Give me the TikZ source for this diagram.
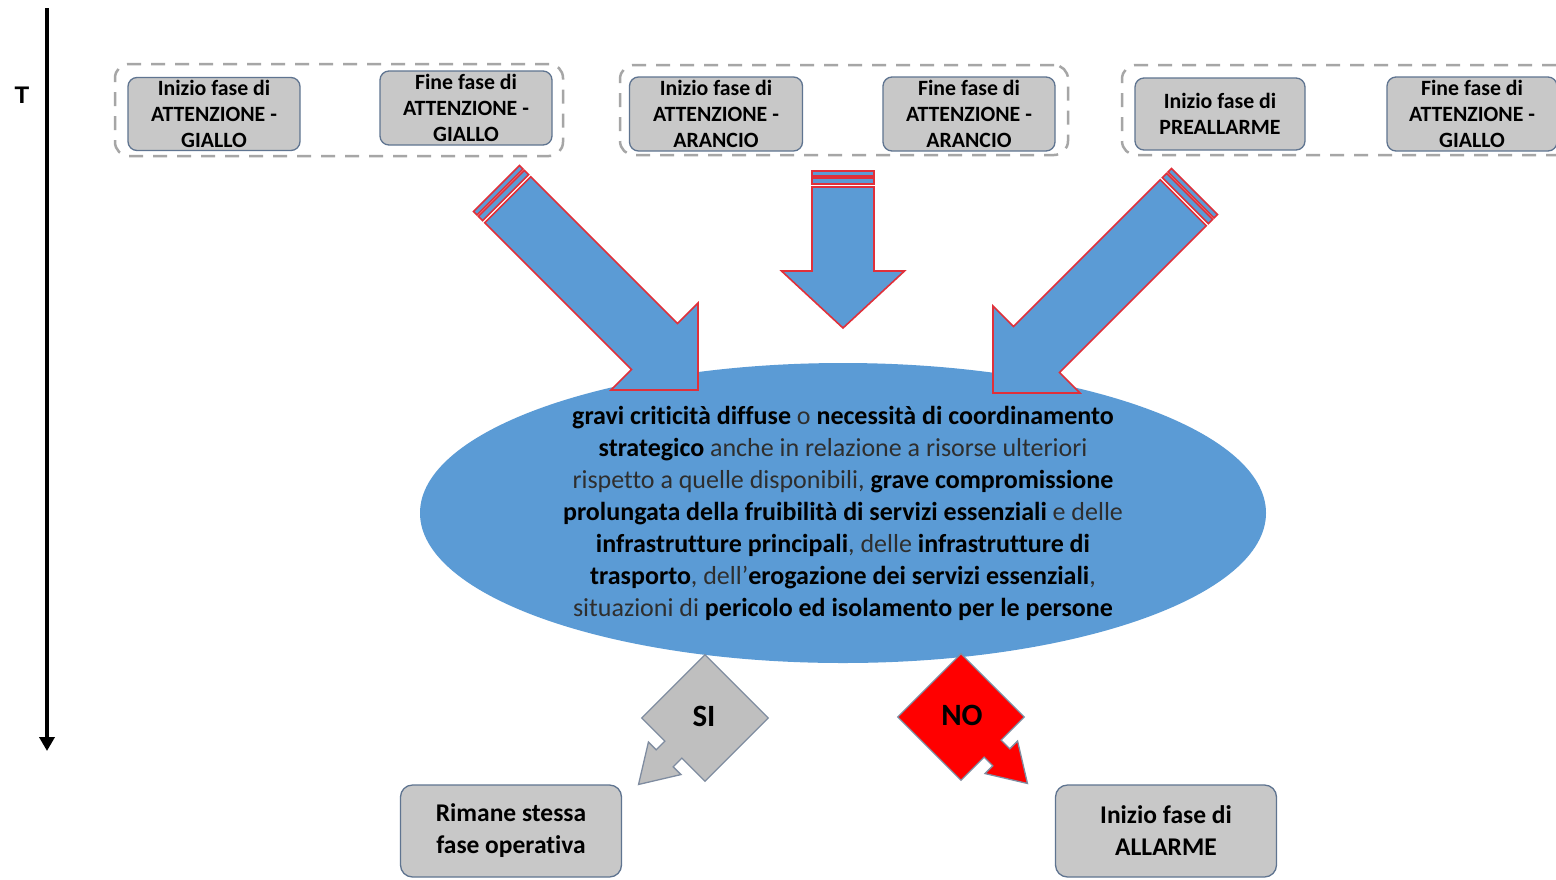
\documentclass[tikz,border=0pt]{standalone}
\usepackage{fontspec}
\setmainfont{Carlito}[Ligatures=NoCommon]
\newfontfamily\arialfont{Liberation Sans}
\usetikzlibrary{arrows.meta}
\definecolor{boxfill}{HTML}{C8C8C8}
\definecolor{boxedge}{HTML}{5F7490}
\definecolor{ellblue}{HTML}{5B9BD5}
\definecolor{arrred}{HTML}{E0303A}
\definecolor{grpdash}{HTML}{A6A6A6}
\definecolor{txtnorm}{HTML}{2E2E2E}
\definecolor{sigray}{HTML}{BFBFBF}
\definecolor{siedge}{HTML}{7F8CA0}
\definecolor{nored}{HTML}{FF0000}
\newcommand{\critb}[1]{\textbf{\color{black}#1}}
\newcommand{\blockarrow}[6]{%
  \begin{scope}[shift={(#1)}, rotate=#2]
    \filldraw[blockarrow] (0,0) -- (-#3,#4) -- (-#3,#5) -- (-#6+16,#5) -- (-#6+16,-#5) -- (-#3,-#5) -- (-#3,-#4) -- cycle;
    \filldraw[blockarrow] (-#6+13,#5) rectangle (-#6+7,-#5);
    \filldraw[blockarrow] (-#6+5,#5) rectangle (-#6,-#5);
  \end{scope}}
\newcommand{\calloutdiamond}[3]{%
  \begin{scope}[shift={(#1)}, rotate=#2]
    \filldraw[#3] (44.7,-44.7) -- (44.7,-12) -- (57,-12) -- (57,-23) -- (94,0) -- (57,23) -- (57,12) -- (44.7,12) -- (44.7,44.7) -- (-44.7,44.7) -- (-44.7,-44.7) -- cycle;
  \end{scope}}
\tikzset{
  phasebox/.style={draw=boxedge, line width=1.3pt, fill=boxfill, rounded corners=9pt, inner sep=0pt,
    align=center, font=\fontsize{21.8}{26}\selectfont\bfseries, text=black},
  bigbox/.style={draw=boxedge, line width=1.3pt, fill=boxfill, rounded corners=12pt, inner sep=0pt,
    align=center, font=\fontsize{25.5}{32}\selectfont\bfseries, text=black,
    minimum width=221pt, minimum height=92pt},
  groupbox/.style={draw=grpdash, line width=2.5pt, dash pattern=on 14pt off 10pt, rounded corners=14pt,
    inner sep=0pt},
  blockarrow/.style={fill=ellblue, draw=arrred, line width=1.6pt, line join=miter},
  sistyle/.style={fill=sigray, draw=siedge, line width=1.3pt, line join=miter},
  nostyle/.style={fill=nored, draw=siedge, line width=1.3pt, line join=miter},
  answer/.style={font=\fontsize{31}{31}\selectfont\bfseries, text=black},
}
\begin{document}
\begin{tikzpicture}[x=1pt,y=-1pt]
\useasboundingbox (0,0) rectangle (1556,879);
\clip (0,0) rectangle (1556,879);
\fill[white] (0,0) rectangle (1556,879);

% time axis
\coordinate (tTop) at (47,8);
\coordinate (tBot) at (47,751);
\draw[line width=4pt, -{Triangle[width=15pt,length=14pt]}] (tTop) -- (tBot);
\node[font=\arialfont\bfseries\fontsize{24}{24}\selectfont] (tlab) at (22,95) {T};

% group boxes
\node[groupbox, minimum width=448pt, minimum height=92pt] (g1) at (339,110) {};
\node[groupbox, minimum width=448pt, minimum height=90pt] (g2) at (844,110) {};
\node[groupbox, minimum width=448pt, minimum height=90pt] (g3) at (1346,110) {};

% phase boxes
\node[phasebox, minimum width=172pt, minimum height=73pt] (b1) at (214,114) {Inizio fase di\\ATTENZIONE -\\GIALLO};
\node[phasebox, minimum width=172pt, minimum height=74pt] (b2) at (466,108) {Fine fase di\\ATTENZIONE -\\GIALLO};
\node[phasebox, minimum width=173pt, minimum height=74pt] (b3) at (716,114) {Inizio fase di\\ATTENZIONE -\\ARANCIO};
\node[phasebox, minimum width=172pt, minimum height=74pt] (b4) at (969,114) {Fine fase di\\ATTENZIONE -\\ARANCIO};
\node[phasebox, minimum width=170pt, minimum height=72pt] (b5) at (1220,114) {Inizio fase di\\PREALLARME};
\node[phasebox, minimum width=170pt, minimum height=74pt] (b6) at (1472,114) {Fine fase di\\ATTENZIONE -\\GIALLO};

% central ellipse
\fill[ellblue] (843,513) ellipse [x radius=423, y radius=150];
\coordinate (ellc) at (843,513);

% block arrows
\blockarrow{698,390}{-45}{61.5}{61.5}{32.5}{285}
\blockarrow{843,328}{-90}{57}{61.5}{31}{157}
\blockarrow{993,393}{-135}{61.5}{61.5}{32.5}{285}

\node[align=center, text=txtnorm, font=\fontsize{26}{32}\selectfont, inner sep=0pt] (crit) at (ellc) {%
\critb{gravi criticità diffuse} o \critb{necessità di coordinamento}\\
\critb{strategico} anche in relazione a risorse ulteriori\\
rispetto a quelle disponibili, \critb{grave compromissione}\\
\critb{prolungata della fruibilità di servizi essenziali} e delle\\
\critb{infrastrutture principali}, delle \critb{infrastrutture di}\\
\critb{trasporto}, dell’\critb{erogazione dei servizi essenziali},\\
situazioni di \critb{pericolo ed isolamento per le persone}};

% SI / NO callouts
\calloutdiamond{705,718}{-135}{sistyle}
\calloutdiamond{961,717}{-45}{nostyle}
\node[answer] (si) at (704,716) {SI};
\node[answer] (no) at (962,715) {NO};

% outcome boxes
\node[bigbox] (r1) at (511,831) {Rimane stessa\\fase operativa};
\node[bigbox] (r2) at (1166,831) {Inizio fase di\\ALLARME};
\end{tikzpicture}
\end{document}
